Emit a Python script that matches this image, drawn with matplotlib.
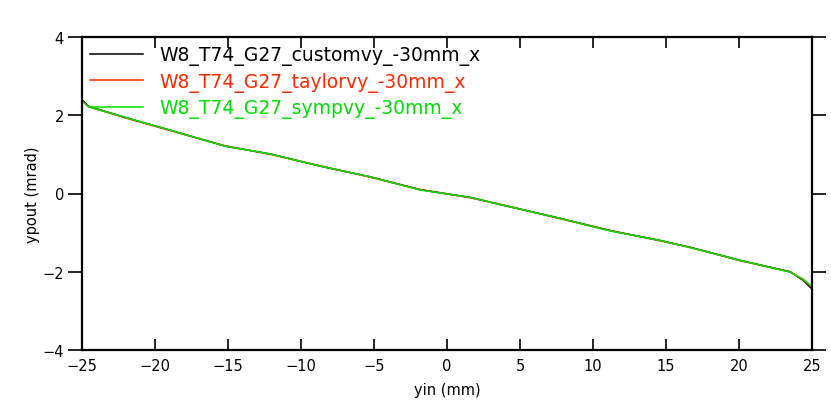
import matplotlib
matplotlib.use("Agg")
import matplotlib.pyplot as plt

# Data
yin = [-25.0, -24.57, -22.0, -18.6, -15.2, -12.1, -8.7, -5.3, -1.85, 1.6,
       4.3, 7.7, 11.2, 14.6, 16.6, 20.1, 23.5, 24.4, 25.0]
custom = [2.40, 2.23, 1.94, 1.58, 1.21, 1.01, 0.70, 0.43, 0.10, -0.10,
          -0.34, -0.63, -0.95, -1.20, -1.37, -1.71, -2.00, -2.22, -2.44]
taylor = [2.37, 2.22, 1.93, 1.57, 1.22, 1.00, 0.71, 0.42, 0.10, -0.11,
          -0.33, -0.64, -0.95, -1.21, -1.37, -1.72, -2.00, -2.20, -2.40]
symp = [2.36, 2.22, 1.94, 1.58, 1.21, 1.01, 0.70, 0.43, 0.09, -0.10,
        -0.34, -0.63, -0.96, -1.20, -1.38, -1.71, -2.01, -2.19, -2.38]

labels = ["W8_T74_G27_customvy_-30mm_x",
          "W8_T74_G27_taylorvy_-30mm_x",
          "W8_T74_G27_sympvy_-30mm_x"]
colors = ["black", "#ff2a00", "#00e000"]

xticks = [-25, -20, -15, -10, -5, 0, 5, 10, 15, 20, 25]
yticks = [-4, -2, 0, 2, 4]

fig = plt.figure(figsize=(8.31, 4.06), dpi=100)
ax = fig.add_axes([82 / 831, 1 - 351 / 406, (812 - 82) / 831, (351 - 38) / 406])

for ys, lab, c in zip([custom, taylor, symp], labels, colors):
    ax.plot(yin, ys, color=c, lw=1.1, label=lab)

ax.set_xlim(-25, 25)
ax.set_ylim(-4, 4)
ax.set_xticks(xticks)
ax.set_yticks(yticks)
ax.set_xticklabels([f"{t:d}".replace("-", "\u2212") for t in xticks])
ax.set_yticklabels([f"{t:d}".replace("-", "\u2212") for t in yticks])
ax.tick_params(axis="x", direction="in", top=True, bottom=True, length=8,
               width=1.2, labelsize=10.5, pad=6)
ax.tick_params(axis="y", direction="out", left=True, right=True, length=10,
               width=1.2, labelsize=10.5, pad=3)
for s in ax.spines.values():
    s.set_linewidth(1.6)

ax.set_xlabel("yin (mm)", fontsize=10.5, labelpad=6)
ax.set_ylabel("ypout (mrad)", fontsize=10.5, labelpad=2)

leg = ax.legend(loc="upper left", bbox_to_anchor=(0.0, 1.0), frameon=False,
                fontsize=13.5, handlelength=2.8, handletextpad=0.9,
                labelspacing=0.34, labelcolor="linecolor", borderaxespad=0.0,
                borderpad=0.45)

fig.savefig("out.png", dpi=100)
